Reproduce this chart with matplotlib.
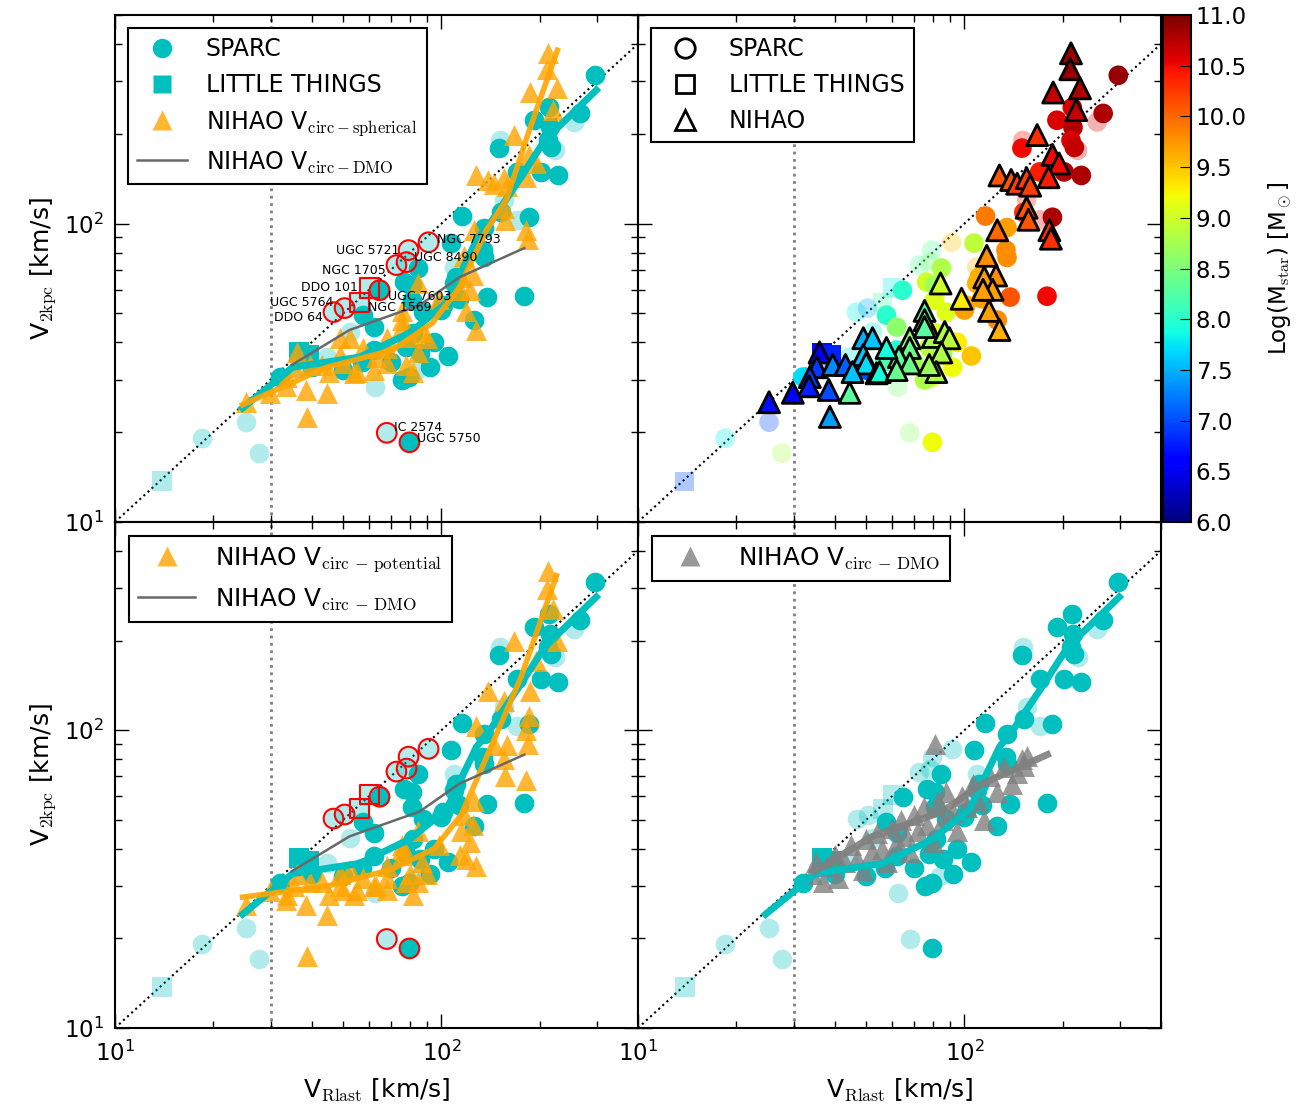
import numpy as np
import matplotlib
matplotlib.use("Agg")
import matplotlib.pyplot as plt
from matplotlib.lines import Line2D

plt.rcParams["mathtext.fontset"] = "cm"
plt.rcParams["font.family"] = "DejaVu Sans"

# ---------------- data ----------------
# SPARC: V_Rlast, V_2kpc, log M_star, quality flag (1 = solid, 0 = faint)
sparc_vlast = [296, 266, 255, 214, 192, 215, 212, 217, 222, 150, 151, 170, 202, 228,
               155, 152, 170, 186, 116, 135, 91.3, 107, 79.3, 134, 135, 72.8, 78.2,
               85, 109, 111, 109, 76.6, 81, 64.6, 138, 81, 88, 101, 46.7, 50.5, 57.7,
               62, 126, 52.3, 82, 78, 85.7, 62, 32, 44.5, 50, 62.4, 79.3, 75.5, 84,
               25.2, 68, 79.8, 27.6, 18.5, 179, 100, 113, 95, 105, 92, 70, 57, 40, 37]
sparc_v2kpc = [314, 234, 219, 245, 222, 210, 190, 180, 176, 179, 190, 149, 149, 145,
               120, 109, 103, 105, 106, 97, 86.6, 86, 81.5, 81.5, 77, 72.6, 74.3,
               71, 71.5, 66.2, 63, 63.7, 62.2, 59.8, 56.7, 55.4, 50.5, 53.3, 50.5, 52.1, 49.3,
               45, 47.5, 43.3, 43, 38.5, 36.8, 37.7, 30.6, 35.7, 32.3, 28.3, 30.6, 29.9, 32.3,
               21.6, 19.9, 18.5, 17.0, 19.1, 57.1, 51.3, 56, 40, 36, 33, 34.5, 34.5, 33, 32.8]
sparc_logm = [10.9, 10.8, 10.6, 10.6, 10.6, 10.8, 10.6, 10.7, 10.7, 10.5, 10.5, 10.4, 10.8, 10.8,
              10.4, 10.3, 10.5, 10.8, 9.9, 9.7, 9.5, 8.9, 8.3, 9.8, 9.8, 8.3, 8.5,
              8.8, 9.6, 9.6, 9.6, 9.0, 8.7, 8.0, 10.1, 9.1, 9.1, 9.6, 7.8, 7.5, 8.0,
              8.6, 9.8, 7.8, 9.1, 8.9, 8.6, 8.0, 7.7, 7.8, 7.0, 8.5, 9.1, 8.8, 8.9,
              7.0, 8.6, 9.2, 8.8, 7.8, 10.5, 9.7, 9.7, 9.3, 9.5, 9.2, 8.7, 8.2, 7.5, 7.2]
sparc_good = [1, 1, 0, 1, 1, 1, 1, 1, 0, 1, 0, 1, 1, 1,
              0, 1, 0, 1, 1, 1, 0, 1, 0, 1, 1, 0, 0,
              1, 0, 1, 1, 1, 1, 1, 1, 1, 1, 1, 0, 0, 1,
              1, 1, 0, 1, 1, 1, 1, 1, 0, 1, 0, 1, 1, 0,
              0, 0, 1, 0, 0, 1, 1, 1, 1, 1, 1, 1, 1, 1, 0]

# LITTLE THINGS
lt_vlast = [36.6, 39.2, 60.2, 56.1, 13.9]
lt_v2kpc = [37.1, 36.3, 60.8, 54.5, 13.7]
lt_logm = [6.7, 6.8, 7.8, 8.2, 7.0]
lt_good = [1, 1, 0, 0, 0]

# galaxies highlighted with red circles / squares
hl_names = ["NGC 7793", "UGC 5721", "UGC 8490", "NGC 1705", "UGC 7603", "UGC 5764",
            "DDO 64", "IC 2574", "UGC 5750"]
hl_vlast = [91.3, 72.8, 79.3, 78.2, 64.6, 50.5, 46.7, 68, 79.8]
hl_v2kpc = [86.6, 72.6, 81.5, 74.3, 59.8, 52.1, 50.5, 19.9, 18.5]
hl_sq_names = ["DDO 101", "NGC 1569"]
hl_sq_vlast = [60.2, 56.1]
hl_sq_v2kpc = [60.8, 54.5]
# label anchors (V_Rlast, V_2kpc, horizontal alignment)
lab_names = ["NGC 7793", "UGC 5721", "UGC 8490", "NGC 1705", "DDO 101", "UGC 7603",
             "UGC 5764", "NGC 1569", "DDO 64", "IC 2574", "UGC 5750"]
lab_x = [96.6, 74.5, 82.6, 67.5, 55.3, 68.4, 46.8, 59.4, 43.3, 71.8, 83.9]
lab_y = [88.7, 81.5, 77.1, 69.8, 61.2, 57.1, 54.6, 52.5, 48.6, 20.7, 19.0]
lab_ha = ["left", "right", "left", "right", "right", "left", "right", "left", "right",
          "left", "left"]

# NIHAO hydro: V_Rlast, V_2kpc (spherical), V_2kpc (potential), log M_star
nihao_vlast = [212, 211, 187, 226, 220, 167, 186, 195, 181, 128, 139, 145, 155, 159,
               155, 157, 126, 182, 184, 117, 125, 115, 122, 114, 84.5, 98, 119, 128,
               75.5, 75.5, 80, 87, 90, 68, 68, 85, 63, 68, 82, 49, 52.3, 57.7, 49, 50,
               36, 35.3, 33.6, 33.4, 39.5, 38.4, 38.7, 43.2, 45.4, 44.5, 53.8, 55, 62,
               78, 25.2, 29.8, 75.5]
nihao_v2kpc = [372, 329, 275, 284, 240, 198, 170, 159, 143, 145, 140, 136, 142, 134,
               113, 103, 95, 95, 89, 78, 67, 66, 60, 60, 63, 56, 51, 44,
               51, 47.5, 41.7, 43.3, 41.3, 41.3, 38.3, 37, 35.7, 34, 31.8, 41.3, 41.3, 38.3, 36.3, 34,
               37, 33, 30.6, 28.5, 33.6, 27.7, 22.5, 33.6, 31.8, 27.1, 31.5, 31.8, 32.3,
               33.6, 25.2, 27.1, 45]
nihao_v2kpc_pot = [342, 298, 135, 199, 255, 199, 112, 171, 68, 103, 135, 89, 125, 89,
                   80, 70, 58, 100, 90, 52, 48, 46, 42, 38, 46, 41, 37, 35,
                   41, 38, 33, 36, 33, 35, 32, 31, 30, 29, 28, 33, 34, 32, 30, 29,
                   33, 30, 28, 26.8, 31, 25.8, 17.5, 31, 28, 24, 28, 29, 30,
                   31, 25.8, 28.8, 40]
nihao_logm = [10.9, 10.9, 10.7, 10.8, 10.7, 10.3, 10.5, 10.5, 10.4, 10.1, 10.1, 10.2, 10.2, 10.2,
              10.1, 10.1, 10.0, 10.3, 10.3, 9.8, 9.8, 9.7, 9.7, 9.7, 9.0, 9.3, 9.7, 9.6,
              8.2, 8.4, 8.8, 8.8, 8.9, 8.6, 8.4, 8.8, 8.3, 8.4, 8.8, 7.5, 7.6, 7.9, 7.6, 7.7,
              6.5, 6.9, 6.9, 6.8, 7.3, 7.0, 7.4, 7.1, 7.6, 8.3, 8.0, 7.9, 8.4,
              8.7, 6.7, 6.6, 8.3]

# NIHAO dark matter only
dmo_vlast = [34, 35, 37, 38, 40, 41, 43, 45, 47, 49, 50, 52, 54, 56, 58, 60, 62, 64,
             66, 68, 70, 72, 75, 77, 80, 81, 83, 86, 88, 92, 95, 98, 102, 106, 110, 115,
             120, 126, 132, 140, 145, 150, 152, 155]
dmo_v2kpc = [33, 36, 31, 35, 38, 32, 36, 41, 37, 34, 43, 39, 45, 40, 36, 47, 42, 50,
             44, 39, 52, 46, 55, 48, 42, 90, 58, 50, 62, 53, 46, 60, 55, 66, 58, 50,
             70, 62, 75, 66, 72, 80, 76, 82]

# running medians
fit_sparc_x = [24.6, 35.0, 56.1, 79.8, 103.5, 128, 143, 173, 207, 298]
fit_sparc_y = [24.1, 33.0, 35.7, 43.0, 54.1, 87.9, 102.6, 140, 190, 280]
fit_sph_x = [24.6, 44.5, 70.8, 93.7, 113.5, 137.3, 158, 186, 226.5]
fit_sph_y = [24.7, 33.0, 37.7, 46.4, 61.2, 95, 120, 206, 381]
fit_pot_x = [24.6, 45, 70, 95, 115, 140, 175, 225]
fit_pot_y = [27.5, 30, 34, 40, 52, 85, 150, 330]
fit_dmo_x = [34.8, 52.3, 85.7, 113.5, 179.5]
fit_dmo_y = [33.6, 44.0, 53.3, 66.1, 82.8]

CYAN = "#00bfbf"
ORANGE = "orange"
XLIM = (10, 400)
YLIM = (10, 500)

sparc_vlast = np.array(sparc_vlast); sparc_v2kpc = np.array(sparc_v2kpc)
sparc_logm = np.array(sparc_logm); sparc_good = np.array(sparc_good, bool)
lt_vlast = np.array(lt_vlast); lt_v2kpc = np.array(lt_v2kpc)
lt_logm = np.array(lt_logm); lt_good = np.array(lt_good, bool)

fig = plt.figure(figsize=(13.1, 11.15), dpi=100)
W, H = 1310.0, 1115.0
axes = {}
for key, (x0, y0, y1) in {"tl": (115, 15, 522), "tr": (638, 15, 522),
                          "bl": (115, 522, 1028), "br": (638, 522, 1028)}.items():
    axes[key] = fig.add_axes([x0 / W, 1 - y1 / H, 523 / W, (y1 - y0) / H])

for key, ax in axes.items():
    ax.set_xscale("log")
    ax.set_yscale("log")
    ax.set_xlim(XLIM)
    ax.set_ylim(YLIM)
    ax.plot(XLIM, XLIM, ls=":", color="k", lw=1.5, zorder=1)
    ax.axvline(30, ls=":", color="grey", lw=2, zorder=1)
    ax.tick_params(which="both", direction="in", top=True, right=True,
                   labelsize=16.5, width=1)
    ax.tick_params(axis="x", pad=9)
    ax.tick_params(axis="y", pad=8)
    ax.tick_params(which="major", length=10)
    ax.tick_params(which="minor", length=5)
    for sp in ax.spines.values():
        sp.set_linewidth(1.5)
    if key in ("tl", "tr"):
        ax.tick_params(labelbottom=False)
    else:
        ax.set_xlabel(r"V$_{\rm Rlast}$ [km/s]", fontsize=18, labelpad=8)
    if key in ("tr", "br"):
        ax.tick_params(labelleft=False)
    else:
        ax.set_ylabel(r"V$_{\rm 2kpc}$ [km/s]", fontsize=18)


def sparc_cyan(ax):
    ax.scatter(sparc_vlast[~sparc_good], sparc_v2kpc[~sparc_good], s=200, c=CYAN,
               alpha=0.3, lw=0, zorder=2)
    ax.scatter(sparc_vlast[sparc_good], sparc_v2kpc[sparc_good], s=200, c=CYAN,
               lw=0, zorder=3)
    ax.scatter(lt_vlast[~lt_good], lt_v2kpc[~lt_good], s=190, c=CYAN, marker="s",
               alpha=0.3, lw=0, zorder=2)
    ax.scatter(lt_vlast[lt_good], lt_v2kpc[lt_good], s=190, c=CYAN, marker="s",
               lw=0, zorder=3)


def highlights(ax, labels):
    ax.scatter(hl_vlast, hl_v2kpc, s=200, facecolor="none", edgecolor="red",
               lw=1.5, zorder=6)
    ax.scatter(hl_sq_vlast, hl_sq_v2kpc, s=190, marker="s", facecolor="none",
               edgecolor="red", lw=1.5, zorder=6)
    if labels:
        for nm, x, y, ha in zip(lab_names, lab_x, lab_y, lab_ha):
            ax.text(x, y, nm, fontsize=9, ha=ha, va="center", zorder=7)


def legend(ax, handles, labels, hl, fs=17):
    leg = ax.legend(handles, labels, loc="upper left", fontsize=fs, fancybox=False,
                    edgecolor="k", framealpha=1, handlelength=hl, handletextpad=0.8,
                    borderaxespad=0.55)
    leg.get_frame().set_linewidth(1.5)


# ---- top left ----
ax = axes["tl"]
sparc_cyan(ax)
ax.scatter(nihao_vlast, nihao_v2kpc, s=230, marker="^", c=ORANGE, alpha=0.8, lw=0, zorder=4)
ax.plot(fit_sparc_x, fit_sparc_y, color=CYAN, lw=5, zorder=5)
ax.plot(fit_sph_x, fit_sph_y, color=ORANGE, lw=4, alpha=0.9, zorder=5)
ax.plot(fit_dmo_x, fit_dmo_y, color="dimgrey", lw=1.8, zorder=5)
highlights(ax, True)
handles = [Line2D([], [], ls="none", marker="o", ms=14, mfc=CYAN, mec="none"),
           Line2D([], [], ls="none", marker="s", ms=13, mfc=CYAN, mec="none"),
           Line2D([], [], ls="none", marker="^", ms=15, mfc=ORANGE, mec="none", alpha=0.8),
           Line2D([], [], color="dimgrey", lw=1.8)]
legend(ax, handles, ["SPARC", "LITTLE THINGS", r"NIHAO V$_{\rm circ-spherical}$",
                     r"NIHAO V$_{\rm circ-DMO}$"], 2.1)

# ---- top right ----
ax = axes["tr"]
norm = plt.Normalize(6, 11)
ax.scatter(sparc_vlast[~sparc_good], sparc_v2kpc[~sparc_good], s=200,
           c=sparc_logm[~sparc_good], cmap="jet", norm=norm, alpha=0.3, lw=0, zorder=2)
ax.scatter(sparc_vlast[sparc_good], sparc_v2kpc[sparc_good], s=200,
           c=sparc_logm[sparc_good], cmap="jet", norm=norm, lw=0, zorder=3)
ax.scatter(lt_vlast[~lt_good], lt_v2kpc[~lt_good], s=190, marker="s",
           c=lt_logm[~lt_good], cmap="jet", norm=norm, alpha=0.3, lw=0, zorder=2)
ax.scatter(lt_vlast[lt_good], lt_v2kpc[lt_good], s=190, marker="s",
           c=lt_logm[lt_good], cmap="jet", norm=norm, lw=0, zorder=3)
sc = ax.scatter(nihao_vlast, nihao_v2kpc, s=230, marker="^", c=nihao_logm,
                cmap="jet", norm=norm, edgecolor="k", lw=2, zorder=4)
handles = [Line2D([], [], ls="none", marker="o", ms=14, mfc="none", mec="k", mew=2),
           Line2D([], [], ls="none", marker="s", ms=13, mfc="none", mec="k", mew=2),
           Line2D([], [], ls="none", marker="^", ms=15, mfc="none", mec="k", mew=2)]
legend(ax, handles, ["SPARC", "LITTLE THINGS", "NIHAO"], 2.1)

cax = fig.add_axes([1163 / W, 1 - 522 / H, 28 / W, 507 / H])
cb = fig.colorbar(sc, cax=cax, ticks=np.arange(6, 11.01, 0.5))
cb.ax.set_yticklabels(["%.1f" % t for t in np.arange(6, 11.01, 0.5)])
cb.ax.tick_params(labelsize=16.5, direction="in", length=8)
cb.outline.set_linewidth(1.5)
cb.set_label(r"Log(M$_{\rm star}$) [M$_\odot$]", fontsize=16.5, labelpad=14)

# ---- bottom left ----
ax = axes["bl"]
sparc_cyan(ax)
ax.scatter(nihao_vlast, nihao_v2kpc_pot, s=230, marker="^", c=ORANGE, alpha=0.8, lw=0, zorder=4)
ax.plot(fit_sparc_x, fit_sparc_y, color=CYAN, lw=5, zorder=5)
ax.plot(fit_pot_x, fit_pot_y, color=ORANGE, lw=4, alpha=0.9, zorder=5)
ax.plot(fit_dmo_x, fit_dmo_y, color="dimgrey", lw=1.8, zorder=5)
highlights(ax, False)
handles = [Line2D([], [], ls="none", marker="^", ms=15, mfc=ORANGE, mec="none", alpha=0.8),
           Line2D([], [], color="dimgrey", lw=1.8)]
legend(ax, handles, [r"NIHAO V$_{\rm circ\,-\,potential}$",
                     r"NIHAO V$_{\rm circ\,-\,DMO}$"], 2.3, fs=17.8)

# ---- bottom right ----
ax = axes["br"]
sparc_cyan(ax)
ax.scatter(dmo_vlast, dmo_v2kpc, s=230, marker="^", c="grey", alpha=0.8, lw=0, zorder=4)
ax.plot(fit_sparc_x, fit_sparc_y, color=CYAN, lw=5, zorder=5)
ax.plot(fit_dmo_x, fit_dmo_y, color="grey", lw=5, alpha=0.9, zorder=5)
handles = [Line2D([], [], ls="none", marker="^", ms=15, mfc="grey", mec="none", alpha=0.8)]
legend(ax, handles, [r"NIHAO V$_{\rm circ\,-\,DMO}$"], 2.3, fs=17.8)

fig.savefig("out.png", dpi=100)
